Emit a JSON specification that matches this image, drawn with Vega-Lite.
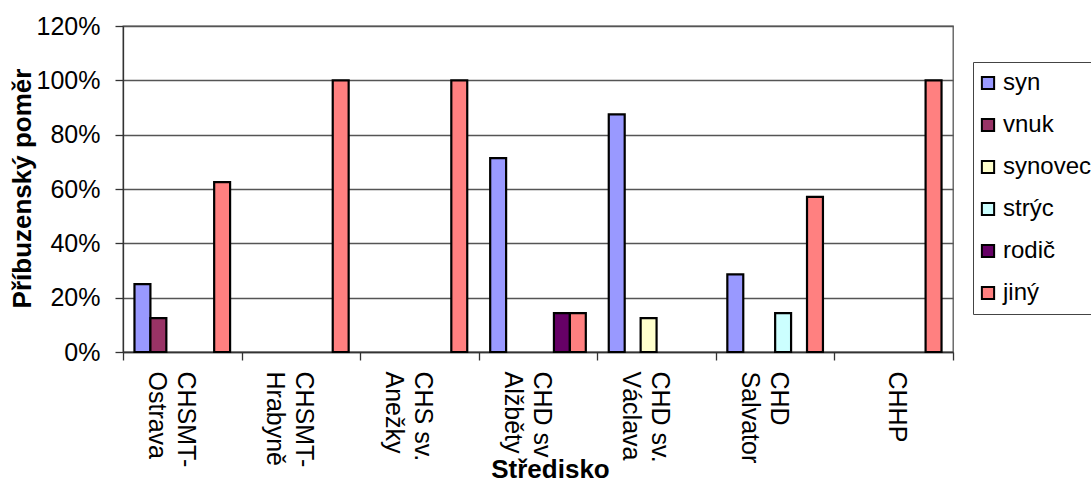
{
  "$schema": "https://vega.github.io/schema/vega-lite/v6.json",
  "width": 830,
  "height": 326,
  "autosize": {"type": "none"},
  "padding": {"left": 123, "top": 26, "right": 138, "bottom": 128},
  "background": "white",
  "config": {
    "font": "Liberation Sans",
    "view": {"stroke": "#555555", "strokeWidth": 1.3}
  },
  "data": {
    "values": [
      {"stredisko": "CHSMT-|Ostrava", "vztah": "syn", "podil": 0.25},
      {"stredisko": "CHSMT-|Ostrava", "vztah": "vnuk", "podil": 0.125},
      {"stredisko": "CHSMT-|Ostrava", "vztah": "jiný", "podil": 0.625},
      {"stredisko": "CHSMT-|Hrabyně", "vztah": "jiný", "podil": 1.0},
      {"stredisko": "CHS sv.|Anežky", "vztah": "jiný", "podil": 1.0},
      {"stredisko": "CHD sv|Alžběty", "vztah": "syn", "podil": 0.714},
      {"stredisko": "CHD sv|Alžběty", "vztah": "rodič", "podil": 0.143},
      {"stredisko": "CHD sv|Alžběty", "vztah": "jiný", "podil": 0.143},
      {"stredisko": "CHD sv.|Václava", "vztah": "syn", "podil": 0.875},
      {"stredisko": "CHD sv.|Václava", "vztah": "synovec", "podil": 0.125},
      {"stredisko": "CHD|Salvator", "vztah": "syn", "podil": 0.286},
      {"stredisko": "CHD|Salvator", "vztah": "strýc", "podil": 0.143},
      {"stredisko": "CHD|Salvator", "vztah": "jiný", "podil": 0.571},
      {"stredisko": "CHHP", "vztah": "jiný", "podil": 1.0}
    ]
  },
  "mark": {"type": "bar", "stroke": "black", "strokeWidth": 2.2},
  "encoding": {
    "x": {
      "field": "stredisko",
      "type": "nominal",
      "sort": ["CHSMT-|Ostrava", "CHSMT-|Hrabyně", "CHS sv.|Anežky", "CHD sv|Alžběty", "CHD sv.|Václava", "CHD|Salvator", "CHHP"],
      "scale": {"paddingInner": 0, "paddingOuter": 0},
      "axis": {
        "title": "Středisko",
        "titleFont": "Liberation Sans",
        "titleFontSize": 26,
        "titleFontWeight": "bold",
        "titleColor": "black",
        "titleX": 427,
        "titleY": 125,
        "titleAlign": "center",
        "titleBaseline": "alphabetic",
        "labelExpr": "split(datum.label, '|')",
        "labelAngle": 90,
        "labelAlign": "left",
        "labelBaseline": "middle",
        "labelFontSize": 25,
        "labelColor": "black",
        "labelPadding": 11,
        "labelLineHeight": 29,
        "labelOffset": 3,
        "tickBand": "extent",
        "tickSize": 8,
        "tickColor": "#333333",
        "tickWidth": 1.3,
        "domainColor": "#333333",
        "domainWidth": 1.3,
        "grid": false
      }
    },
    "xOffset": {
      "field": "vztah",
      "type": "nominal",
      "scale": {
        "domain": ["syn", "vnuk", "synovec", "strýc", "rodič", "jiný"],
        "paddingInner": 0,
        "paddingOuter": 0.72
      }
    },
    "y": {
      "field": "podil",
      "type": "quantitative",
      "scale": {"domain": [0, 1.2], "nice": false},
      "axis": {
        "title": "Příbuzenský poměr",
        "titleFont": "Liberation Sans",
        "titleFontSize": 26,
        "titleFontWeight": "bold",
        "titleColor": "black",
        "titleAngle": -90,
        "titleX": -101,
        "titleY": 162,
        "titleAlign": "center",
        "titleBaseline": "middle",
        "values": [0, 0.2, 0.4, 0.6, 0.8, 1.0, 1.2],
        "format": ".0%",
        "labelFontSize": 25,
        "labelColor": "black",
        "labelPadding": 15,
        "tickSize": 8,
        "tickColor": "#333333",
        "tickWidth": 1.3,
        "domainColor": "#333333",
        "domainWidth": 1.3,
        "grid": true,
        "gridColor": "#555555",
        "gridWidth": 1.3
      }
    },
    "color": {
      "field": "vztah",
      "type": "nominal",
      "scale": {
        "domain": ["syn", "vnuk", "synovec", "strýc", "rodič", "jiný"],
        "range": ["#9999FF", "#993366", "#FFFFCC", "#CCFFFF", "#660066", "#FF8080"]
      },
      "legend": {
        "title": null,
        "orient": "none",
        "legendX": 850,
        "legendY": 36,
        "strokeColor": "#444444",
        "padding": 9,
        "rowPadding": 18,
        "symbolType": "square",
        "symbolSize": 150,
        "symbolOffset": -6,
        "symbolStrokeColor": "black",
        "symbolStrokeWidth": 2,
        "labelFontSize": 24,
        "labelColor": "black",
        "labelOffset": 3
      }
    }
  }
}
